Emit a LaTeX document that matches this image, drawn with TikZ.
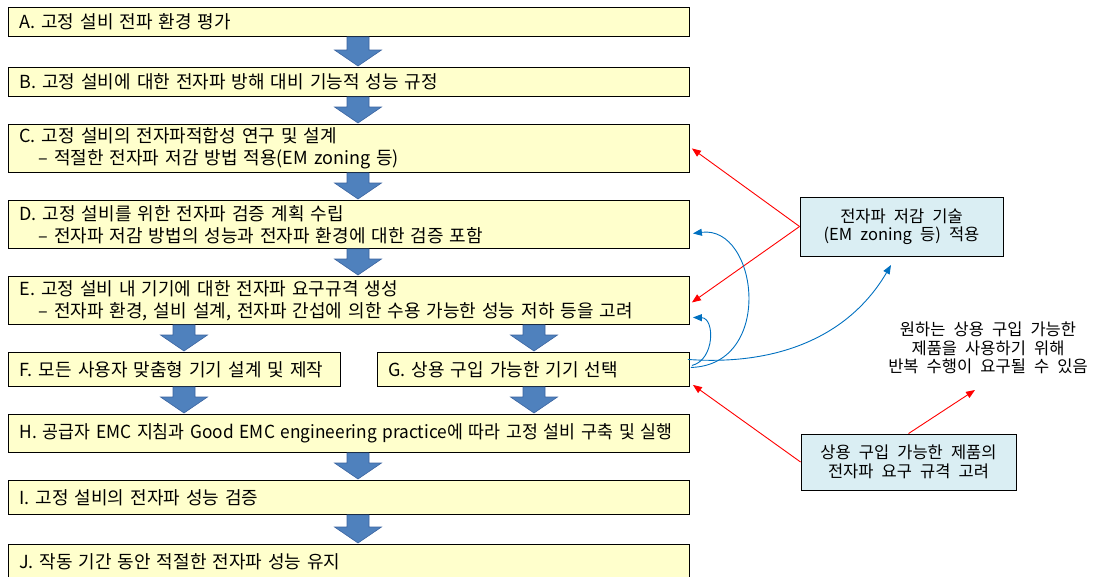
\documentclass[tikz,border=0pt]{standalone}
\usepackage{fontspec}
\setmainfont{Noto Sans CJK KR}[WordSpace=2.2]
\usetikzlibrary{arrows.meta,calc}
\definecolor{ybg}{HTML}{FFFFCC}
\definecolor{bbg}{HTML}{DAEEF3}
\definecolor{blkfill}{HTML}{4F81BD}
\definecolor{blkdraw}{HTML}{3B64A0}
\definecolor{linkblue}{HTML}{0070C0}
\definecolor{linkred}{HTML}{FF0000}
\newcommand\blkarrow[3]{\path[blk] let \p1=(#1.south), \p2=(#2.north) in
  (#3pt-11pt,\y1) -- (#3pt+11pt,\y1) -- (#3pt+11pt,\y2+17pt) -- (#3pt+23.5pt,\y2+17pt)
  -- (#3pt,\y2+1pt) -- (#3pt-23.5pt,\y2+17pt) -- (#3pt-11pt,\y2+17pt) -- cycle;}
\tikzset{
  ybox/.style={draw=black, line width=0.9pt, fill=ybg, anchor=north west, align=left,
    inner xsep=11pt, inner ysep=0pt},
  bbox/.style={draw=black, line width=0.9pt, fill=bbg, align=center, inner sep=0pt,
    font=\fontsize{16.5}{18.5}\selectfont},
  blk/.style={fill=blkfill, draw=blkdraw, line width=0.6pt},
  redlink/.style={draw=linkred, line width=0.9pt, -{Triangle[length=9pt,width=7pt]}},
  bluelink/.style={draw=linkblue, line width=0.9pt, -{Triangle[length=9pt,width=7pt]}},
}
\begin{document}
\begin{tikzpicture}[x=1pt,y=-1pt, font=\fontsize{18}{22}\selectfont]
\useasboundingbox (0,0) rectangle (1094,576);
\node[ybox, text width=659pt, minimum height=29pt] (A) at (8,7) {A. 고정 설비 전파 환경 평가};
\node[ybox, text width=659pt, minimum height=29pt] (B) at (8,67) {B. 고정 설비에 대한 전자파 방해 대비 기능적 성능 규정};
\node[ybox, text width=659pt, minimum height=48pt] (C) at (8,124) {C. 고정 설비의 전자파적합성 연구 및 설계\\\hspace*{19pt}– 적절한 전자파 저감 방법 적용(EM zoning 등)};
\node[ybox, text width=659pt, minimum height=48pt] (D) at (8,200) {D. 고정 설비를 위한 전자파 검증 계획 수립\\\hspace*{19pt}– 전자파 저감 방법의 성능과 전자파 환경에 대한 검증 포함};
\node[ybox, text width=659pt, minimum height=48pt] (E) at (8,276) {E. 고정 설비 내 기기에 대한 전자파 요구규격 생성\\\hspace*{19pt}– 전자파 환경, 설비 설계, 전자파 간섭에 의한 수용 가능한 성능 저하 등을 고려};
\node[ybox, text width=310pt, minimum height=34pt] (F) at (8,352) {F. 모든 사용자 맞춤형 기기 설계 및 제작};
\node[ybox, text width=290pt, minimum height=34pt] (G) at (377,352) {G. 상용 구입 가능한 기기 선택};
\node[ybox, text width=659pt, minimum height=38pt] (H) at (8,414) {\makebox[659pt][l]{\scalebox{0.96}[1]{H. 공급자 EMC 지침과 Good EMC engineering practice에 따라 고정 설비 구축 및 실행}}};
\node[ybox, text width=659pt, minimum height=34pt] (I) at (8,480) {I. 고정 설비의 전자파 성능 검증};
\node[ybox, text width=659pt, minimum height=34pt] (J) at (8,544) {J. 작동 기간 동안 적절한 전자파 성능 유지};

\node[bbox, minimum width=203pt, minimum height=59pt] (EM) at (901.5,226.5) {전자파 저감 기술\\(EM zoning 등) 적용};
\node[bbox, minimum width=215pt, minimum height=56pt] (RB) at (908.5,462) {상용 구입 가능한 제품의\\전자파 요구 규격 고려};
\node[align=center, inner sep=0pt, font=\fontsize{16.5}{18.5}\selectfont] (note) at (988,348) {원하는 상용 구입 가능한\\제품을 사용하기 위해\\반복 수행이 요구될 수 있음};
\coordinate (noteTip) at (975,390);
\coordinate (emTip) at (891,265);

\blkarrow{A}{B}{358}
\blkarrow{B}{C}{358}
\blkarrow{C}{D}{358}
\blkarrow{D}{E}{358}
\blkarrow{E}{F}{184}
\blkarrow{E}{G}{534}
\blkarrow{F}{H}{184}
\blkarrow{G}{H}{534}
\blkarrow{H}{I}{358}
\blkarrow{I}{J}{358}

\draw[redlink] (EM.west) -- ($(C.east)+(2,0)$);
\draw[redlink] (EM.west) -- ($(E.east)+(2,2)$);
\draw[redlink] (RB.west) -- ($(G.south east)+(3,-2)$);
\draw[redlink] (RB.north) -- (noteTip);

\draw[bluelink] ($(G.east)+(1,-2)$) .. controls (775,365) and (758,225) .. ($(D.east)+(3,9)$);
\draw[bluelink] ($(G.east)+(2,-4)$) .. controls (715,360) and (715,318) .. ($(E.east)+(3,17)$);
\draw[bluelink] ($(G.east)+(-2,-10)$) .. controls (780,366) and (850,335) .. (emTip);
\end{tikzpicture}
\end{document}
